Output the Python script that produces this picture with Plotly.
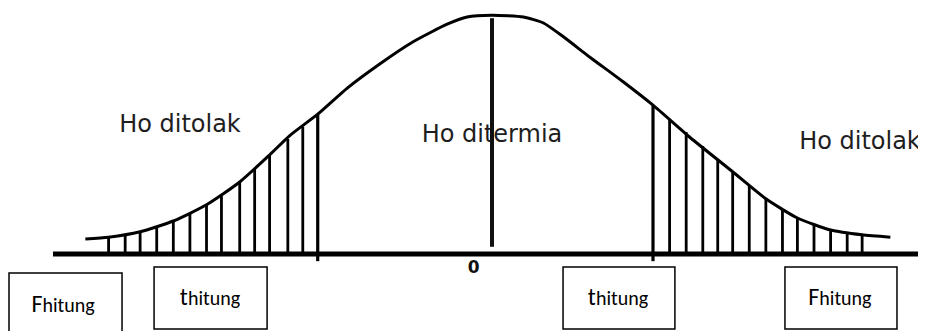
import plotly.graph_objs as go

# Bell curve: z position vs. density
curve_z = [-2.45, -2.31, -2.12, -1.92, -1.72, -1.52, -1.34, -1.22, -1.05, -0.87,
           -0.67, -0.48, -0.27, -0.15, 0.0, 0.19, 0.31, 0.43, 0.59, 0.79,
           0.97, 1.19, 1.45, 1.65, 1.84, 2.04, 2.23, 2.40]
curve_density = [0.025, 0.028, 0.037, 0.055, 0.082, 0.120, 0.165, 0.197, 0.233, 0.277,
                 0.318, 0.353, 0.383, 0.395, 0.398, 0.395, 0.385, 0.362, 0.328, 0.287,
                 0.248, 0.195, 0.137, 0.092, 0.060, 0.040, 0.032, 0.028]

# Hatching in the two rejection regions
left_hatch_z = [-2.31, -2.21, -2.12, -2.02, -1.92, -1.82, -1.72, -1.63, -1.52, -1.43,
                -1.34, -1.23, -1.14, -1.05]
left_hatch_h = [0.028, 0.031, 0.037, 0.045, 0.055, 0.067, 0.082, 0.100, 0.120, 0.142,
                0.165, 0.192, 0.212, 0.233]
right_hatch_z = [0.97, 1.07, 1.17, 1.27, 1.36, 1.45, 1.55, 1.65, 1.75, 1.84,
                 1.94, 2.04, 2.14, 2.23]
right_hatch_h = [0.248, 0.225, 0.203, 0.180, 0.158, 0.137, 0.114, 0.092, 0.075, 0.060,
                 0.049, 0.040, 0.035, 0.032]

# Region labels and the boxed statistic labels
region_labels = ["Ho ditolak", "Ho ditermia", "Ho ditolak"]
box_labels = ["F", "t", "t", "F"]
box_suffix = "hitung"

# ranges allow for the 8px body margin of the html page
X_RANGE = [-2.916, 2.663]
Y_RANGE = [-0.1417, 0.41]

fig = go.Figure()

# region labels go first so the centre line is drawn across "ditermia"
fig.add_trace(
    go.Scatter(
        x=[-1.88, 0.0, 2.217],
        y=[0.2125, 0.197, 0.185],
        mode="text",
        text=region_labels,
        textfont=dict(family="DejaVu Sans", size=24, color="#1e1e1e"),
        textposition="middle center",
    )
)

# axis line
fig.add_trace(
    go.Scatter(
        x=[-2.645, 2.7],
        y=[0, 0],
        mode="lines",
        line=dict(color="#000000", width=5),
    )
)


def hatch_xy(zs, hs, bottom=0.0):
    xs, ys = [], []
    for z, h in zip(zs, hs):
        xs += [z, z, None]
        ys += [bottom, h, None]
    return xs, ys


for zs, hs in [(left_hatch_z[:-1], left_hatch_h[:-1]), (right_hatch_z[1:], right_hatch_h[1:])]:
    hx, hy = hatch_xy(zs, hs)
    fig.add_trace(
        go.Scatter(x=hx, y=hy, mode="lines", line=dict(color="#000000", width=2.8))
    )

# critical value lines poke slightly under the axis
bx, by = hatch_xy([left_hatch_z[-1], right_hatch_z[0]], [left_hatch_h[-1], right_hatch_h[0]], -0.012)
fig.add_trace(go.Scatter(x=bx, y=by, mode="lines", line=dict(color="#000000", width=3.2)))

fig.add_trace(
    go.Scatter(
        x=curve_z,
        y=curve_density,
        mode="lines",
        line=dict(color="#000000", width=3, shape="spline", smoothing=0.6),
    )
)

# centre line at the mean
fig.add_trace(
    go.Scatter(x=[0, 0], y=[0.012, 0.393], mode="lines", line=dict(color="#111111", width=4))
)

fig.add_trace(
    go.Scatter(
        x=[-0.111],
        y=[-0.024],
        mode="text",
        text=["<b>0</b>"],
        textfont=dict(family="DejaVu Sans", size=17, color="#111111"),
    )
)

# boxes under the axis
boxes = [(-2.91, -2.229, -0.0317, -0.16), (-2.036, -1.355, -0.0217, -0.125),
         (0.428, 1.102, -0.0217, -0.125), (1.765, 2.44, -0.0217, -0.125)]
for x0, x1, y0, y1 in boxes:
    fig.add_shape(
        type="rect", x0=x0, x1=x1, y0=y0, y1=y1,
        line=dict(color="#000000", width=1.5), fillcolor="rgba(0,0,0,0)",
    )

fig.add_trace(
    go.Scatter(
        x=[-2.584, -1.699, 0.759, 2.096],
        y=[-0.089, -0.0767, -0.0767, -0.0767],
        mode="text",
        text=[f"<span style='font-size:24px'>{c}</span>{box_suffix}" for c in box_labels],
        textfont=dict(family="Carlito, Lato, sans-serif", size=20, color="#000000"),
    )
)

fig.update_layout(
    width=926,
    height=331,
    margin=dict(l=0, r=0, t=0, b=0),
    showlegend=False,
    hovermode=False,
    plot_bgcolor="white",
    paper_bgcolor="white",
    xaxis=dict(range=X_RANGE, visible=False, fixedrange=True),
    yaxis=dict(range=Y_RANGE, visible=False, fixedrange=True),
)

fig.write_html("out.html")
